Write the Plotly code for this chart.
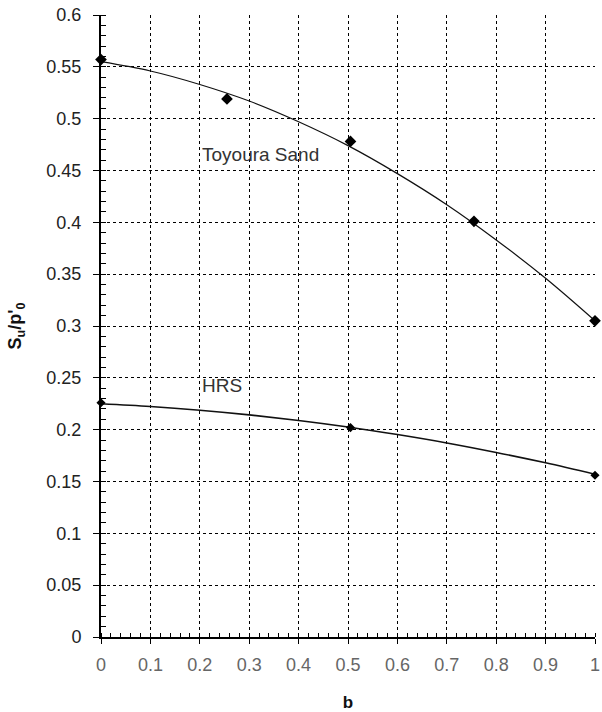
import plotly.graph_objects as go

# Measured points
toyoura_b = [0.0, 0.255, 0.505, 0.755, 1.0]
toyoura_su = [0.557, 0.519, 0.478, 0.401, 0.305]
hrs_b = [0.0, 0.505, 1.0]
hrs_su = [0.226, 0.202, 0.156]

# Trend curves
curve_b = [0.0, 0.1, 0.2, 0.3, 0.4, 0.5, 0.6, 0.7, 0.8, 0.9, 1.0]
toyoura_curve = [0.555, 0.546, 0.533, 0.517, 0.497, 0.474, 0.447, 0.417, 0.383, 0.346, 0.305]
hrs_curve = [0.225, 0.2224, 0.2188, 0.2143, 0.2089, 0.2026, 0.1953, 0.1872, 0.1780, 0.1680, 0.157]

x_ticks = [0, 0.1, 0.2, 0.3, 0.4, 0.5, 0.6, 0.7, 0.8, 0.9, 1]
x_ticktext = ["0", "0.1", "0.2", "0.3", "0.4", "0.5", "0.6", "0.7", "0.8", "0.9", "1"]
y_ticks = [0, 0.05, 0.1, 0.15, 0.2, 0.25, 0.3, 0.35, 0.4, 0.45, 0.5, 0.55, 0.6]
y_ticktext = ["0", "0.05", "0.1", "0.15", "0.2", "0.25", "0.3", "0.35", "0.4", "0.45", "0.5", "0.55", "0.6"]

FONT = "Liberation Sans, Arial, sans-serif"

fig = go.Figure()
fig.add_trace(go.Scatter(x=curve_b, y=toyoura_curve, mode="lines", line=dict(color="#111", width=1.2, shape="spline"),
                         showlegend=False, hoverinfo="skip", cliponaxis=False))
fig.add_trace(go.Scatter(x=curve_b, y=hrs_curve, mode="lines", line=dict(color="#111", width=1.6, shape="spline"),
                         showlegend=False, hoverinfo="skip", cliponaxis=False))
fig.add_trace(go.Scatter(x=toyoura_b, y=toyoura_su, mode="markers", name="Toyoura Sand",
                         marker=dict(symbol="diamond", size=9, color="black"), showlegend=False, cliponaxis=False))
fig.add_trace(go.Scatter(x=hrs_b, y=hrs_su, mode="markers", name="HRS",
                         marker=dict(symbol="diamond", size=7, color="black"), showlegend=False, cliponaxis=False))

fig.add_annotation(x=0.2, y=0.465, text="Toyoura Sand", showarrow=False, xanchor="left", yanchor="middle",
                   font=dict(family=FONT, size=19, color="#333"))
fig.add_annotation(x=0.2, y=0.243, text="HRS", showarrow=False, xanchor="left", yanchor="middle",
                   font=dict(family=FONT, size=19, color="#333"))

fig.update_layout(
    width=602, height=712,
    margin=dict(l=101, r=7, t=15, b=75, autoexpand=False),
    paper_bgcolor="white", plot_bgcolor="white",
    font=dict(family=FONT, color="#222"),
    xaxis=dict(
        range=[0, 1], tickmode="array", tickvals=x_ticks, ticktext=x_ticktext,
        showgrid=True, gridcolor="black", griddash="dot", gridwidth=1.3,
        showline=True, linecolor="black", linewidth=1.5, zeroline=False,
        ticks="outside", ticklen=5, tickcolor="black", ticklabelstandoff=6,
        ticklabeloverflow="allow", automargin=False,
        tickfont=dict(family=FONT, size=18, color="#666"),
        minor=dict(ticks="inside", ticklen=4, tickcolor="black", dtick=0.02, showgrid=False),
        title=dict(text="<b>b</b>", font=dict(family=FONT, size=17, color="#111"), standoff=28),
    ),
    yaxis=dict(
        range=[0, 0.6], tickmode="array", tickvals=y_ticks, ticktext=y_ticktext,
        showgrid=True, gridcolor="black", griddash="dot", gridwidth=1.3,
        showline=True, linecolor="black", linewidth=2, zeroline=False,
        ticks="outside", ticklen=6, tickcolor="black", ticklabelstandoff=8,
        automargin=False,
        tickfont=dict(family=FONT, size=18, color="#222"),
        minor=dict(ticks="inside", ticklen=5, tickcolor="black", dtick=0.01, showgrid=False),
        title=dict(text="<b>S<sub>u</sub>/p'<sub>0</sub></b>", font=dict(family=FONT, size=18, color="#111"), standoff=20),
    ),
)

fig.write_html("out.html", config={"displayModeBar": False},
               post_script="document.body.style.margin='0px';document.body.style.overflow='hidden';")
